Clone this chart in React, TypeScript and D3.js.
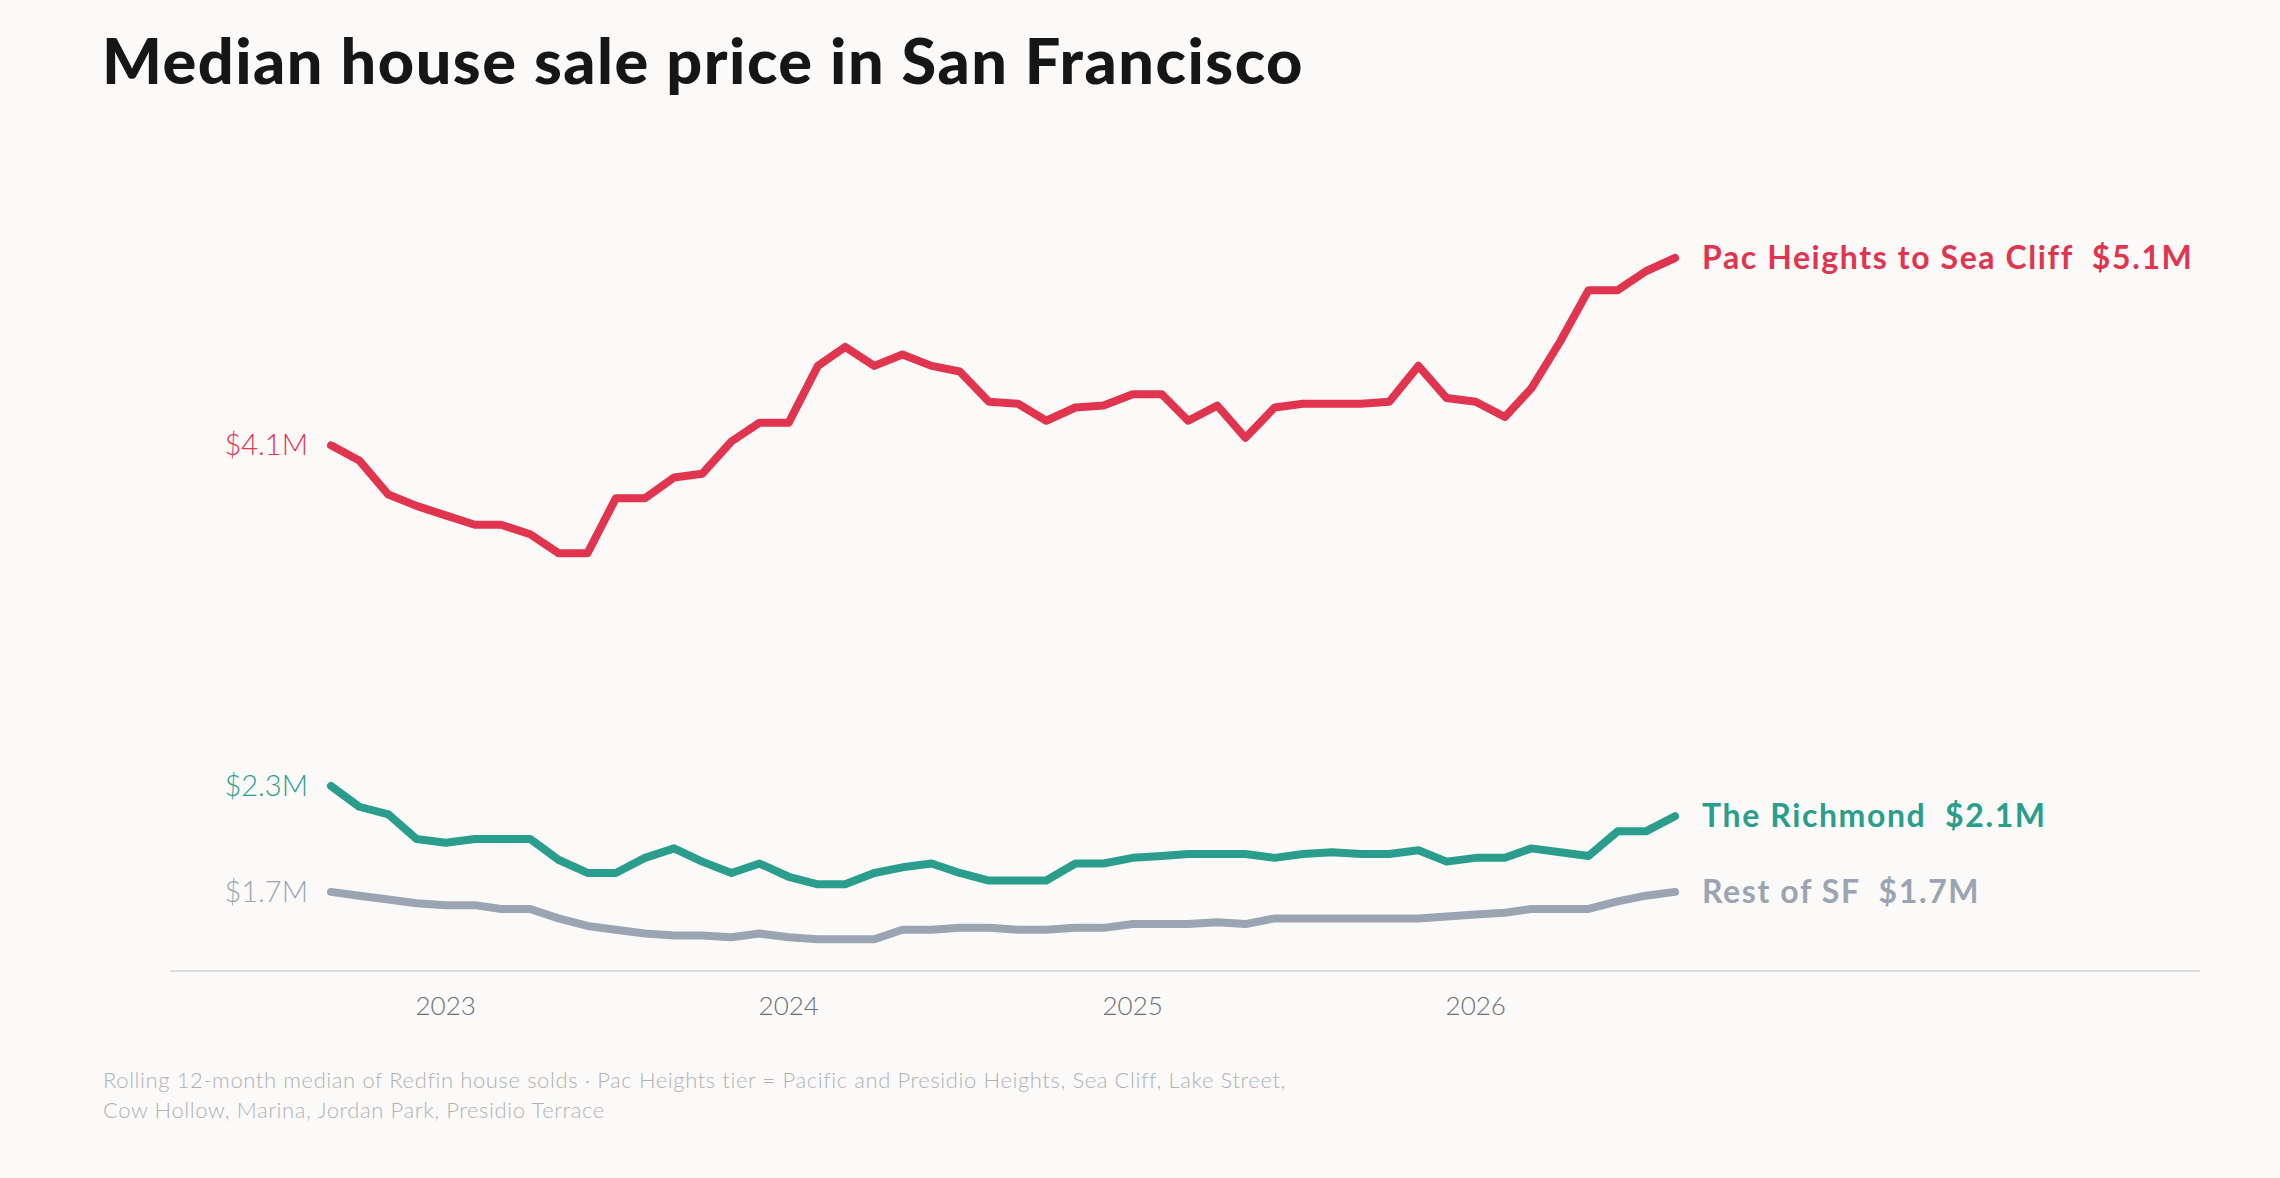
import { useEffect } from "react";
import * as d3 from "d3";

// monthly rolling medians, $M, Sep 2022 .. Aug 2026
const startMonth = new Date(2022, 8, 1);

const pacHeights = [
  4.1, 4.02, 3.84, 3.78, 3.73, 3.68, 3.68, 3.63, 3.53, 3.53, 3.82, 3.82,
  3.93, 3.95, 4.12, 4.22, 4.22, 4.52, 4.62, 4.52, 4.58, 4.52, 4.49, 4.33,
  4.32, 4.23, 4.3, 4.31, 4.37, 4.37, 4.23, 4.31, 4.14, 4.3, 4.32, 4.32,
  4.32, 4.33, 4.52, 4.35, 4.33, 4.25, 4.4, 4.65, 4.92, 4.92, 5.02, 5.09,
];

const richmond = [
  2.3, 2.19, 2.15, 2.02, 2.0, 2.02, 2.02, 2.02, 1.91, 1.84, 1.84, 1.92,
  1.97, 1.9, 1.84, 1.89, 1.82, 1.78, 1.78, 1.84, 1.87, 1.89, 1.84, 1.8,
  1.8, 1.8, 1.89, 1.89, 1.92, 1.93, 1.94, 1.94, 1.94, 1.92, 1.94, 1.95,
  1.94, 1.94, 1.96, 1.9, 1.92, 1.92, 1.97, 1.95, 1.93, 2.06, 2.06, 2.14,
];

const restOfSF = [
  1.74, 1.72, 1.7, 1.68, 1.67, 1.67, 1.65, 1.65, 1.6, 1.56, 1.54, 1.52,
  1.51, 1.51, 1.5, 1.52, 1.5, 1.49, 1.49, 1.49, 1.54, 1.54, 1.55, 1.55,
  1.54, 1.54, 1.55, 1.55, 1.57, 1.57, 1.57, 1.58, 1.57, 1.6, 1.6, 1.6,
  1.6, 1.6, 1.6, 1.61, 1.62, 1.63, 1.65, 1.65, 1.65, 1.69, 1.72, 1.74,
];

const seriesNames = ["Pac Heights to Sea Cliff", "The Richmond", "Rest of SF"];
const startLabels = ["$4.1M", "$2.3M", "$1.7M"];
const endLabels = ["$5.1M", "$2.1M", "$1.7M"];
const colors = ["#E0344F", "#2A9D8C", "#9AA4B3"];
const yearTicks = [2023, 2024, 2025, 2026];

const title = "Median house sale price in San Francisco";
const footnote = [
  "Rolling 12-month median of Redfin house solds · Pac Heights tier = Pacific and Presidio Heights, Sea Cliff, Lake Street,",
  "Cow Hollow, Marina, Jordan Park, Presidio Terrace",
];

const W = 2280;
const H = 1178;
const FONT = "Lato, 'Noto Sans', sans-serif";

export default function App() {
  useEffect(() => {
    document.body.style.margin = "0";
    document.body.style.background = "#FBFAF9";
  }, []);

  const allSeries = [pacHeights, richmond, restOfSF];
  const months = pacHeights.map((_, i) => d3.timeMonth.offset(startMonth, i));

  const x = d3
    .scaleTime()
    .domain([months[0], months[months.length - 1]])
    .range([331, 1675]);
  const y = d3.scaleLinear().domain([1.322, 5.09]).range([971, 258]);

  const line = d3
    .line<number>()
    .x((_, i) => x(months[i]))
    .y((d) => y(d));

  return (
    <svg width={W} height={H} style={{ display: "block", background: "#FBFAF9" }}>
      <text
        x={102}
        y={84}
        fontFamily={FONT}
        fontWeight={900}
        fontSize={63}
        letterSpacing={1.5}
        fill="#161616"
      >
        {title}
      </text>

      <line x1={170} x2={2200} y1={971} y2={971} stroke="#DEDEDE" strokeWidth={2} />

      {yearTicks.map((yr) => (
        <text
          key={yr}
          x={x(new Date(yr, 0, 1))}
          y={1015}
          textAnchor="middle"
          fontFamily={FONT}
          fontWeight={300}
          fontSize={26}
          fill="#6B6F78"
        >
          {yr}
        </text>
      ))}

      {allSeries.map((s, k) => (
        <g key={k}>
          <path
            d={line(s) ?? ""}
            fill="none"
            stroke={colors[k]}
            strokeWidth={8}
            strokeLinejoin="round"
            strokeLinecap="round"
          />
          <text
            x={x(months[0]) - 23}
            y={y(s[0])}
            dy="0.35em"
            textAnchor="end"
            fontFamily={FONT}
            fontWeight={300}
            fontSize={29}
            fill={colors[k]}
          >
            {startLabels[k]}
          </text>
          <text
            x={x(months[months.length - 1]) + 27}
            y={y(s[s.length - 1])}
            dy="0.35em"
            fontFamily={FONT}
            fontWeight={700}
            fontSize={32}
            letterSpacing={1.6}
            fill={colors[k]}
            style={{ whiteSpace: "pre" }}
          >
            {seriesNames[k] + "  " + endLabels[k]}
          </text>
        </g>
      ))}

      {footnote.map((t, i) => (
        <text
          key={i}
          x={103}
          y={1088 + i * 30}
          fontFamily={FONT}
          fontWeight={300}
          fontSize={22}
          letterSpacing={0.6}
          fill="#AFB1B6"
        >
          {t}
        </text>
      ))}
    </svg>
  );
}
